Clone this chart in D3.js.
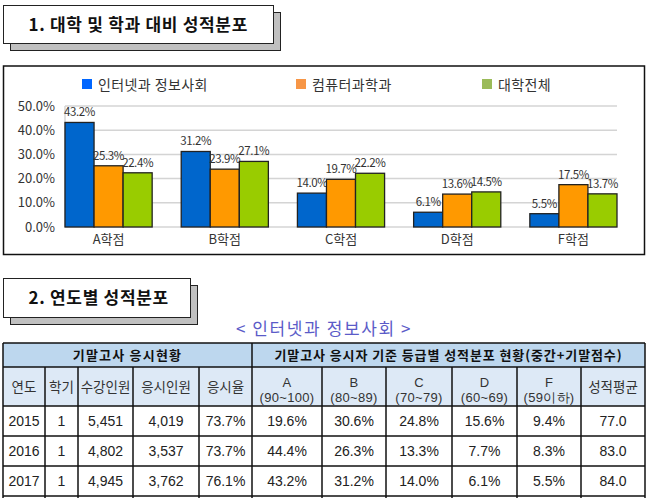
<!DOCTYPE html>
<html>
<head>
<meta charset="utf-8">
<script src="https://cdn.jsdelivr.net/npm/d3@7"></script>
<style>
  html, body { margin: 0; padding: 0; background: #fff; }
  svg { display: block; font-family: "Noto Sans CJK KR", "Noto Sans", sans-serif; }
</style>
</head>
<body>
<svg id="page" width="647" height="498"></svg>
<script>
// chart data
const grades = ["A학점", "B학점", "C학점", "D학점", "F학점"];
const seriesNames = ["인터넷과 정보사회", "컴퓨터과학과", "대학전체"];
const inetValues = [43.2, 31.2, 14.0, 6.1, 5.5];
const csValues = [25.3, 23.9, 19.7, 13.6, 17.5];
const univValues = [22.4, 27.1, 22.2, 14.5, 13.7];
const yTicks = [0, 10, 20, 30, 40, 50];

// table data
const headTop = ["기말고사 응시현황", "기말고사 응시자 기준 등급별 성적분포 현황(중간+기말점수)"];
const headCols = [["연도"], ["학기"], ["수강인원"], ["응시인원"], ["응시율"],
  ["A", "(90~100)"], ["B", "(80~89)"], ["C", "(70~79)"], ["D", "(60~69)"], ["F", "(59이하)"], ["성적평균"]];
const tableRows = [
  ["2015", "1", "5,451", "4,019", "73.7%", "19.6%", "30.6%", "24.8%", "15.6%", "9.4%", "77.0"],
  ["2016", "1", "4,802", "3,537", "73.7%", "44.4%", "26.3%", "13.3%", "7.7%", "8.3%", "83.0"],
  ["2017", "1", "4,945", "3,762", "76.1%", "43.2%", "31.2%", "14.0%", "6.1%", "5.5%", "84.0"]
];

const svg = d3.select("#page");

// section title boxes with shadow
function titleBox(x, y, w, h, text) {
  svg.append("rect").attr("x", x + 7).attr("y", y + 7).attr("width", w).attr("height", h)
    .attr("fill", "#c0c0c0").attr("stroke", "#222").attr("stroke-width", 1);
  svg.append("rect").attr("x", x).attr("y", y).attr("width", w).attr("height", h)
    .attr("fill", "#fff").attr("stroke", "#222").attr("stroke-width", 1);
  svg.append("text").attr("x", x + 25).attr("y", y + h / 2 + 6)
    .attr("font-size", 17).attr("font-weight", 700).attr("fill", "#111")
    .attr("letter-spacing", 0.7)
    .text(text);
}
titleBox(3.5, 5.5, 270, 38, "1. 대학 및 학과 대비 성적분포");
titleBox(3.5, 278.5, 187, 39, "2. 연도별 성적분포");

// chart frame
svg.append("rect").attr("x", 3.5).attr("y", 66).attr("width", 641).attr("height", 188.5)
  .attr("fill", "#fff").attr("stroke", "#111").attr("stroke-width", 1.5);

const x0 = d3.scaleBand().domain(grades).range([65, 617]).paddingInner(0.25).paddingOuter(0);
const x1 = d3.scaleBand().domain(seriesNames).range([0, x0.bandwidth()]);
const y = d3.scaleLinear().domain([0, 50]).range([227, 106]);
const barColor = d3.scaleOrdinal().domain(seriesNames).range(["#0066cc", "#ff9900", "#99cc00"]);
const legendColor = d3.scaleOrdinal().domain(seriesNames).range(["#0066ff", "#f79646", "#9bbb59"]);

// gridlines
svg.append("g").selectAll("line").data(yTicks).join("line")
  .attr("x1", 65).attr("x2", 617)
  .attr("y1", d => y(d)).attr("y2", d => y(d))
  .attr("stroke", "#d4d4d4").attr("stroke-width", 1.5);
svg.append("line").attr("x1", 65).attr("x2", 65).attr("y1", y(50)).attr("y2", y(0))
  .attr("stroke", "#d4d4d4").attr("stroke-width", 1.5);

// y axis labels
const yAxis = svg.append("g").attr("transform", "translate(60,0)")
  .call(d3.axisLeft(y).tickValues(yTicks).tickSize(0).tickPadding(5).tickFormat(d => d.toFixed(1) + "%"));
yAxis.select(".domain").remove();
yAxis.selectAll("text").attr("font-size", 13).attr("fill", "#333")
  .attr("font-family", "'Noto Sans CJK KR', sans-serif");

// x axis labels
const xAxis = svg.append("g").attr("transform", `translate(0,${y(0)})`)
  .call(d3.axisBottom(x0).tickSize(0).tickPadding(8));
xAxis.select(".domain").remove();
xAxis.selectAll("text").attr("font-size", 13).attr("fill", "#333")
  .attr("font-family", "'Noto Sans CJK KR', sans-serif");

// bars
const allValues = [inetValues, csValues, univValues];
const groups = svg.append("g").selectAll("g").data(grades).join("g")
  .attr("transform", d => `translate(${x0(d)},0)`);
const cells = groups.selectAll("g").data((g, i) => seriesNames.map((s, k) => ({ s, v: allValues[k][i] })))
  .join("g");
cells.append("rect")
  .attr("x", d => x1(d.s)).attr("width", x1.bandwidth())
  .attr("y", d => y(d.v)).attr("height", d => y(0) - y(d.v))
  .attr("fill", d => barColor(d.s)).attr("stroke", "#222").attr("stroke-width", 1.3);
cells.append("text")
  .attr("x", d => x1(d.s) + x1.bandwidth() / 2).attr("y", d => y(d.v) - 6)
  .attr("text-anchor", "middle").attr("font-size", 11.5).attr("fill", "#333")
  .attr("letter-spacing", -0.4)
  .text(d => d.v.toFixed(1) + "%");

// legend
const legendX = [82, 296, 482];
const legend = svg.append("g").selectAll("g").data(seriesNames).join("g")
  .attr("transform", (d, i) => `translate(${legendX[i]},79)`);
legend.append("rect").attr("width", 10).attr("height", 10).attr("fill", d => legendColor(d));
legend.append("text").attr("x", 16).attr("y", 10.5).attr("font-size", 14).attr("fill", "#333")
  .attr("letter-spacing", 0.4).text(d => d);

// subtitle
svg.append("text").attr("x", 324).attr("y", 335).attr("text-anchor", "middle")
  .attr("font-size", 17).attr("fill", "#5b5bc8").attr("letter-spacing", 1.6)
  .text("< 인터넷과 정보사회 >");

// table
const colEdges = [3, 45, 78, 133, 199, 252, 322, 386, 452, 517, 581, 645];
const rowTop = 343, head1H = 24, head2H = 39, rowH = 30;
const tbl = svg.append("g").attr("font-family", "'Liberation Sans', 'Noto Sans CJK KR', sans-serif");

tbl.append("rect").attr("x", colEdges[0]).attr("y", rowTop).attr("width", colEdges[11] - colEdges[0])
  .attr("height", head1H).attr("fill", "#bdd7ee");
tbl.append("rect").attr("x", colEdges[0]).attr("y", rowTop + head1H).attr("width", colEdges[11] - colEdges[0])
  .attr("height", head2H).attr("fill", "#dde9f6");

const spanEdges = [[colEdges[0], colEdges[5]], [colEdges[5], colEdges[11]]];
tbl.selectAll("text.h1").data(headTop).join("text").attr("class", "h1")
  .attr("x", (d, i) => (spanEdges[i][0] + spanEdges[i][1]) / 2).attr("y", rowTop + 17)
  .attr("text-anchor", "middle").attr("font-size", 13).attr("font-weight", 700).attr("fill", "#111")
  .attr("letter-spacing", (d, i) => i === 0 ? 1.2 : 0.9)
  .attr("font-family", "'Noto Sans CJK KR', sans-serif")
  .text(d => d);

const h2 = tbl.selectAll("g.h2").data(headCols).join("g").attr("class", "h2")
  .attr("transform", (d, i) => `translate(${(colEdges[i] + colEdges[i + 1]) / 2},${rowTop + head1H})`);
h2.each(function(lines) {
  const g = d3.select(this);
  if (lines.length === 1) {
    g.append("text").attr("text-anchor", "middle").attr("y", 25)
      .attr("font-size", 13.5).attr("fill", "#333")
      .attr("font-family", "'Noto Sans CJK KR', sans-serif")
      .text(lines[0]);
  } else {
    lines.forEach((t, k) => {
      g.append("text").attr("text-anchor", "middle")
        .attr("y", 20 + k * 15)
        .attr("font-size", 13).attr("fill", "#333").attr("letter-spacing", 0.3)
        .attr("font-family", "'Liberation Sans', sans-serif")
        .text(t);
    });
  }
});

const bodyTop = rowTop + head1H + head2H;
tableRows.forEach((row, r) => {
  tbl.append("g").selectAll("text").data(row).join("text")
    .attr("x", (d, i) => (colEdges[i] + colEdges[i + 1]) / 2)
    .attr("y", bodyTop + r * rowH + 20)
    .attr("text-anchor", "middle").attr("font-size", 14).attr("fill", "#222")
    .text(d => d);
});

// table grid
const lastY = 510;
const hLines = [rowTop, rowTop + head1H, bodyTop, bodyTop + rowH, bodyTop + 2 * rowH, bodyTop + 3 * rowH];
tbl.selectAll("line.h").data(hLines).join("line").attr("class", "h")
  .attr("x1", colEdges[0]).attr("x2", colEdges[11]).attr("y1", d => d).attr("y2", d => d)
  .attr("stroke", "#111").attr("stroke-width", 1.5);
tbl.selectAll("line.v").data(colEdges).join("line").attr("class", "v")
  .attr("x1", d => d).attr("x2", d => d)
  .attr("y1", (d, i) => (i === 0 || i === 5 || i === 11) ? rowTop : rowTop + head1H)
  .attr("y2", lastY)
  .attr("stroke", "#111").attr("stroke-width", 1.5);
</script>
</body>
</html>
